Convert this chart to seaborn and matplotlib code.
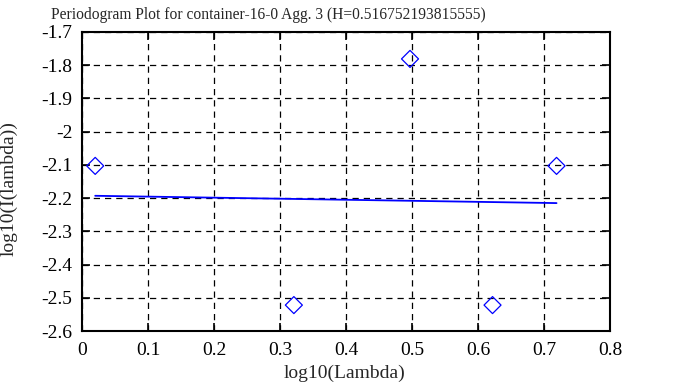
import numpy as np
import pandas as pd
import seaborn as sns
import matplotlib
matplotlib.use("Agg")
import matplotlib.pyplot as plt

# periodogram points (log10 lambda, log10 I(lambda))
log_lambda = [0.020, 0.321, 0.497, 0.622, 0.719]
log_I = [-2.103, -2.522, -1.781, -2.522, -2.103]

# least squares fit line end points
fit_x = [0.020, 0.719]
fit_y = [-2.193, -2.215]

title = "Periodogram Plot for container-16-0 Agg. 3 (H=0.516752193815555)"

pts = pd.DataFrame({"x": log_lambda, "y": log_I})
fit = pd.DataFrame({"x": fit_x, "y": fit_y})

sns.set_style("ticks")
plt.rcParams["font.family"] = ["Liberation Serif", "DejaVu Serif"]
plt.rcParams["font.size"] = 14

fig = plt.figure(figsize=(6.73, 3.87), dpi=100)
ax = fig.add_axes([82 / 673, 1 - 331 / 387, 528 / 673, 299 / 387])

sns.lineplot(data=fit, x="x", y="y", ax=ax, color="blue", linewidth=1.3)
sns.scatterplot(data=pts, x="x", y="y", ax=ax, marker="D", s=75,
                facecolor="none", edgecolor="blue", linewidth=0.9, zorder=5)

ax.set_xlim(0, 0.8)
ax.set_ylim(-2.6, -1.7)
ax.set_xticks(np.arange(0, 0.81, 0.1))
ax.set_yticks(np.arange(-2.6, -1.69, 0.1))
ax.set_xticklabels(["0", "0.1", "0.2", "0.3", "0.4", "0.5", "0.6", "0.7", "0.8"])
ax.set_yticklabels(["-2.6", "-2.5", "-2.4", "-2.3", "-2.2", "-2.1", "-2", "-1.9", "-1.8", "-1.7"])
ax.grid(True, color="black", linestyle=(0, (5, 4)), linewidth=0.9)
ax.tick_params(direction="in", length=6, width=1.2, top=True, right=True,
               labelsize=14, colors="black")
ax.tick_params(axis="y", pad=7)
ax.tick_params(axis="x", pad=8)
for s in ax.spines.values():
    s.set_linewidth(1.5)
    s.set_color("black")

ax.set_xlabel("log10(Lambda)", fontsize=14, va="center")
ax.set_ylabel("log10(I(lambda))", fontsize=14, va="center")
ax.xaxis.set_label_coords(0.498, -0.14)
ax.yaxis.set_label_coords(-0.138, 0.478)
fig.text(268 / 673, 1 - 15 / 387, title, fontsize=11.2, ha="center", va="center")

fig.savefig("out.png", dpi=100)
